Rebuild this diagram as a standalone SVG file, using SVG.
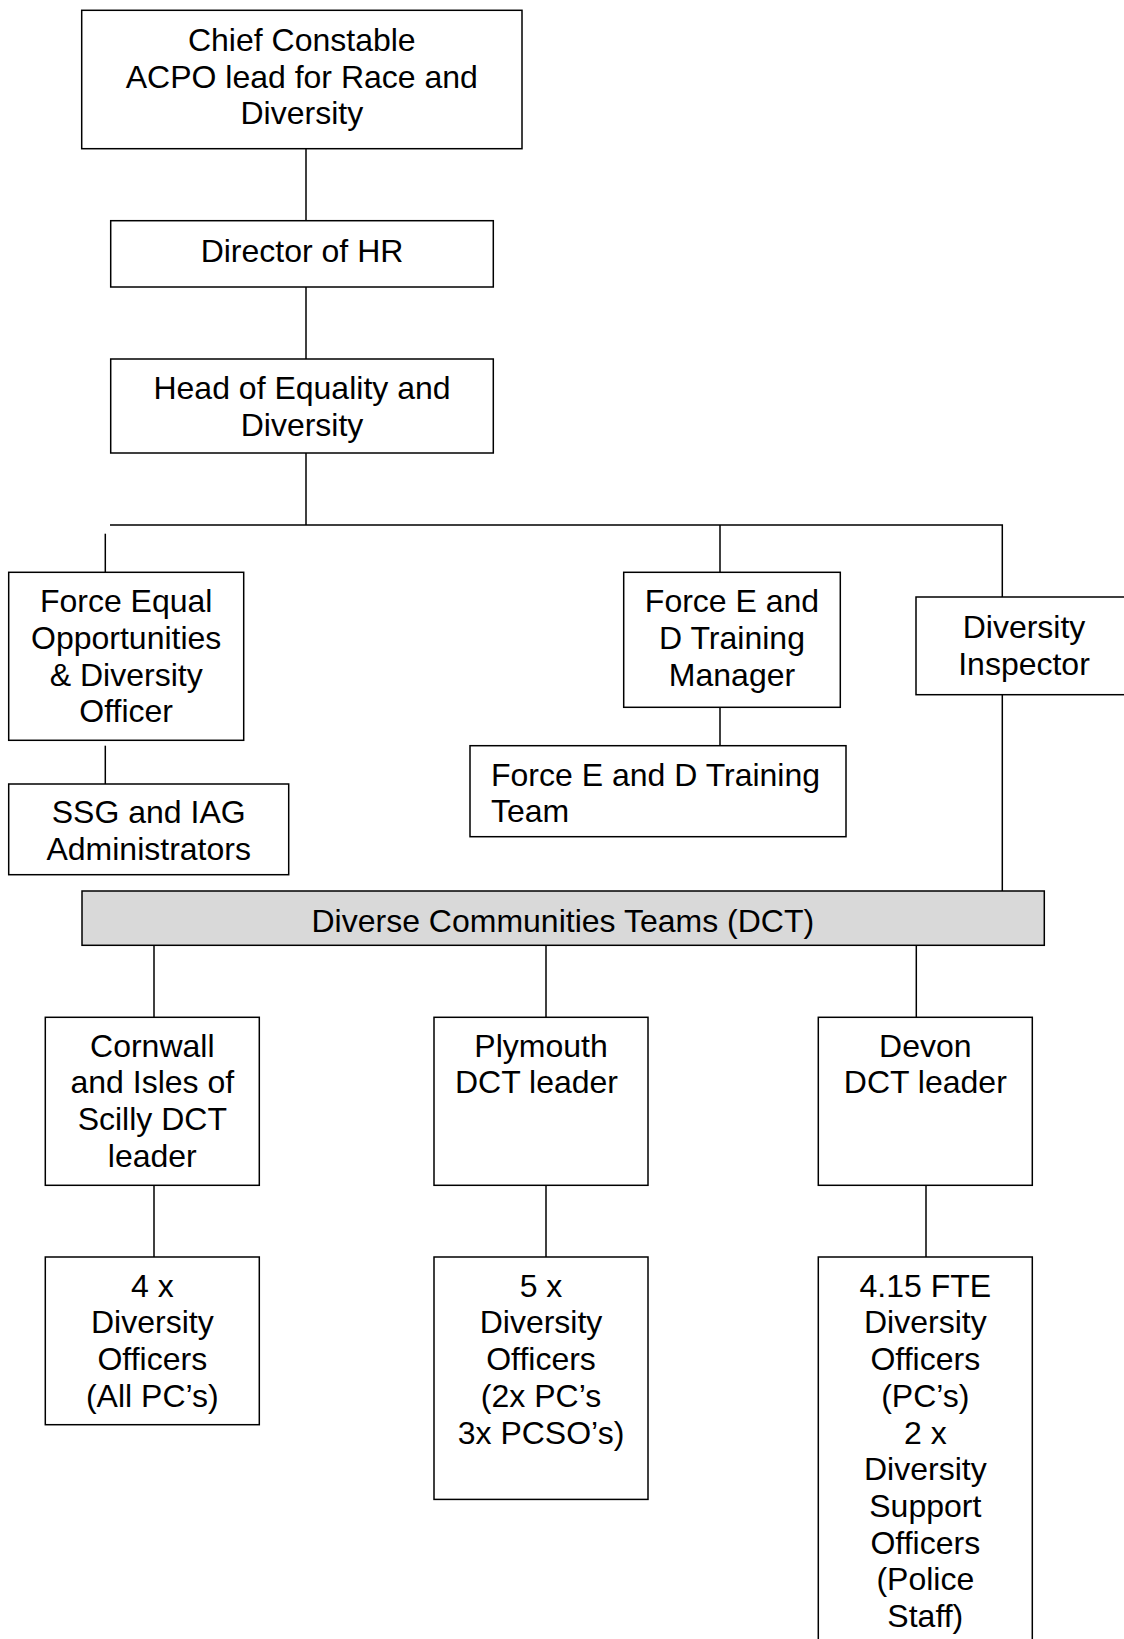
<svg xmlns="http://www.w3.org/2000/svg" width="1124" height="1639" viewBox="0 0 1124 1639">
<style>
.box{fill:#fff;stroke:#000;stroke-width:1.5}
.dct{fill:#d9d9d9;stroke:#000;stroke-width:1.5}
.ln{stroke:#000;stroke-width:1.5;fill:none}
text{font-family:"Liberation Sans",Arial,sans-serif;font-size:32px;fill:#000;text-anchor:middle}
.l{text-anchor:start}
</style>
<rect width="1124" height="1639" fill="#fff"/>
<g id="connectors">
<line class="ln" x1="306" y1="148.7" x2="306" y2="220.7"/>
<line class="ln" x1="306" y1="287" x2="306" y2="359"/>
<line class="ln" x1="306" y1="453" x2="306" y2="525"/>
<polyline class="ln" points="110,525 1002.3,525 1002.3,597"/>
<line class="ln" x1="105.3" y1="533.7" x2="105.3" y2="572.3"/>
<line class="ln" x1="720" y1="525" x2="720" y2="572.3"/>
<line class="ln" x1="105.3" y1="745.7" x2="105.3" y2="784"/>
<line class="ln" x1="720" y1="707.3" x2="720" y2="745.7"/>
<line class="ln" x1="1002.3" y1="694.7" x2="1002.3" y2="891"/>
<line class="ln" x1="154" y1="945.3" x2="154" y2="1017.3"/>
<line class="ln" x1="546" y1="945.3" x2="546" y2="1017.3"/>
<line class="ln" x1="916.3" y1="945.3" x2="916.3" y2="1017.3"/>
<line class="ln" x1="154" y1="1185.3" x2="154" y2="1257"/>
<line class="ln" x1="546" y1="1185.3" x2="546" y2="1257"/>
<line class="ln" x1="926" y1="1185.3" x2="926" y2="1257"/>
</g>
<g id="chief-constable">
<rect class="box" x="81.7" y="10.3" width="440.3" height="138.4"/>
<text x="301.8"><tspan x="301.8" y="51">Chief Constable</tspan><tspan x="301.8" y="87.7">ACPO lead for Race and</tspan><tspan x="301.8" y="124.4">Diversity</tspan></text>
</g>
<g id="director-hr">
<rect class="box" x="110.7" y="220.7" width="382.6" height="66.3"/>
<text x="302" y="261.7">Director of HR</text>
</g>
<g id="head-equality">
<rect class="box" x="110.7" y="359" width="382.6" height="94"/>
<text x="302"><tspan x="302" y="399">Head of Equality and</tspan><tspan x="302" y="435.7">Diversity</tspan></text>
</g>
<g id="force-eo-officer">
<rect class="box" x="8.7" y="572.3" width="235" height="168"/>
<text x="126.2"><tspan x="126.2" y="612.3">Force Equal</tspan><tspan x="126.2" y="649">Opportunities</tspan><tspan x="126.2" y="685.7">&amp; Diversity</tspan><tspan x="126.2" y="722.4">Officer</tspan></text>
</g>
<g id="ssg-iag">
<rect class="box" x="8.7" y="784" width="280" height="90.7"/>
<text x="148.7"><tspan x="148.7" y="823.3">SSG and IAG</tspan><tspan x="148.7" y="860">Administrators</tspan></text>
</g>
<g id="training-manager">
<rect class="box" x="623.7" y="572.3" width="216.6" height="135"/>
<text x="732"><tspan x="732" y="612.3">Force E and</tspan><tspan x="732" y="649">D Training</tspan><tspan x="732" y="685.7">Manager</tspan></text>
</g>
<g id="training-team">
<rect class="box" x="470" y="745.7" width="376" height="91"/>
<text class="l" x="491"><tspan x="491" y="785.7">Force E and D Training</tspan><tspan x="491" y="822.4">Team</tspan></text>
</g>
<g id="diversity-inspector">
<rect class="box" x="916" y="597" width="220" height="97.7"/>
<text x="1024"><tspan x="1024" y="638.3">Diversity</tspan><tspan x="1024" y="675">Inspector</tspan></text>
</g>
<g id="dct">
<rect class="dct" x="82" y="891" width="962.3" height="54.3"/>
<text x="562.8" y="931.7">Diverse Communities Teams (DCT)</text>
</g>
<g id="cornwall-leader">
<rect class="box" x="45.3" y="1017.3" width="214" height="168"/>
<text x="152.3"><tspan x="152.3" y="1056.7">Cornwall</tspan><tspan x="152.3" y="1093.4">and Isles of</tspan><tspan x="152.3" y="1130.1">Scilly DCT</tspan><tspan x="152.3" y="1166.8">leader</tspan></text>
</g>
<g id="plymouth-leader">
<rect class="box" x="434" y="1017.3" width="214" height="168"/>
<text x="541"><tspan x="541" y="1056.7">Plymouth</tspan><tspan x="536.5" y="1093.4">DCT leader</tspan></text>
</g>
<g id="devon-leader">
<rect class="box" x="818.3" y="1017.3" width="214" height="168"/>
<text x="925.3"><tspan x="925.3" y="1057">Devon</tspan><tspan x="925.3" y="1093.4">DCT leader</tspan></text>
</g>
<g id="cornwall-officers">
<rect class="box" x="45.3" y="1257" width="214" height="167.7"/>
<text x="152.3"><tspan x="152.3" y="1296.7">4 x</tspan><tspan x="152.3" y="1333.4">Diversity</tspan><tspan x="152.3" y="1370.1">Officers</tspan><tspan x="152.3" y="1406.8">(All PC’s)</tspan></text>
</g>
<g id="plymouth-officers">
<rect class="box" x="434" y="1257" width="214" height="242.4"/>
<text x="541"><tspan x="541" y="1296.7">5 x</tspan><tspan x="541" y="1333.4">Diversity</tspan><tspan x="541" y="1370.1">Officers</tspan><tspan x="541" y="1406.8">(2x PC’s</tspan><tspan x="541" y="1443.5">3x PCSO’s)</tspan></text>
</g>
<g id="devon-officers">
<rect class="box" x="818.3" y="1257" width="214" height="400"/>
<text x="925.3"><tspan x="925.3" y="1296.7">4.15 FTE</tspan><tspan x="925.3" y="1333.4">Diversity</tspan><tspan x="925.3" y="1370.1">Officers</tspan><tspan x="925.3" y="1406.8">(PC’s)</tspan><tspan x="925.3" y="1443.5">2 x</tspan><tspan x="925.3" y="1480.2">Diversity</tspan><tspan x="925.3" y="1516.9">Support</tspan><tspan x="925.3" y="1553.6">Officers</tspan><tspan x="925.3" y="1590.3">(Police</tspan><tspan x="925.3" y="1627">Staff)</tspan></text>
</g>
</svg>
